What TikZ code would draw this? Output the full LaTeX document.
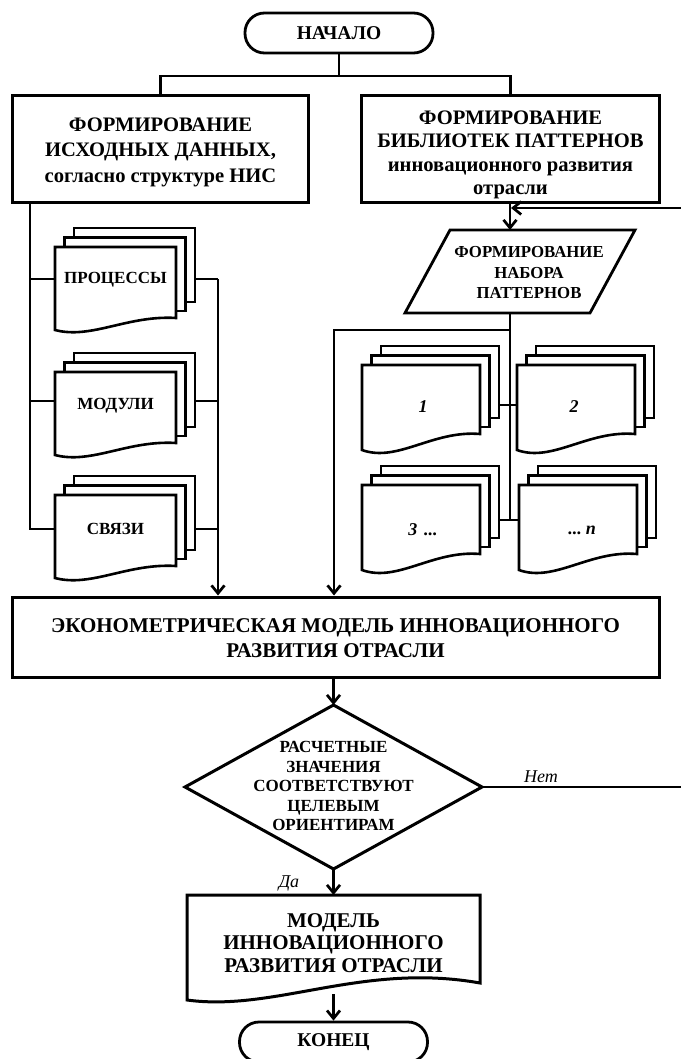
\documentclass[tikz,border=0pt]{standalone}
\usepackage{fontspec}
\setmainfont{Liberation Serif}
\usetikzlibrary{arrows.meta}
\newcommand{\fsz}[2]{\fontsize{#1}{#2}\selectfont}
% x, y (front top-left), w, h (left side), r (rise of right bottom)
\newcommand{\docstack}[5]{%
  \filldraw[page] ({#1+19},{#2-19}) rectangle ({#1+#3+19},{#2+#4-#5-16});
  \filldraw[page] ({#1+9.5},{#2-9.5}) rectangle ({#1+#3+9.5},{#2+#4-#5-7});
  \filldraw[page] (#1,#2) -- ({#1+#3},#2) -- ({#1+#3},{#2+#4-#5})
     .. controls ({#1+0.6*#3},{#2+#4-1.25*#5}) and ({#1+0.3*#3},{#2+#4+0.8*#5}) .. (#1,{#2+#4}) -- cycle;
}
\begin{document}
\begin{tikzpicture}[x=1pt,y=-1pt,
  conn/.style={line width=2.7pt},
  arr/.style={-{Straight Barb[length=8pt,width=13pt]}},
  page/.style={draw=black,fill=white,line width=2.6pt},
  box/.style={draw,line width=3pt,fill=white,inner sep=0pt},
  term/.style={draw,line width=2.8pt,rounded corners=19.5pt,minimum width=188pt,minimum height=40pt,inner sep=0pt,font=\bfseries\fsz{19.5}{22}},
  txt/.style={align=center,inner sep=0pt},
  lbl/.style={inner sep=0pt,font=\itshape\fsz{18}{20}},
  num/.style={inner sep=0pt,font=\bfseries\itshape\fsz{18}{20}}]
\useasboundingbox (0,0) rectangle (680,1059);
\fill[white] (0,0) rectangle (680,1059);

% start
\node[term] (start) at (339,33) {НАЧАЛО};
% top boxes
\node[box,minimum width=296pt,minimum height=107pt] (lbox) at (160.5,149.5) {};
\node[txt,font=\bfseries\fsz{20.6}{25.5}] (ltext) at (160.5,152) {ФОРМИРОВАНИЕ\\ИСХОДНЫХ ДАННЫХ,\\согласно структуре НИС};
\node[box,minimum width=298pt,minimum height=107pt] (rbox) at (510.5,149.5) {};
\node[txt,font=\bfseries\fsz{20.6}{23.5}] (rtext) at (510.5,155) {ФОРМИРОВАНИЕ\\БИБЛИОТЕК ПАТТЕРНОВ\\инновационного развития\\отрасли};
\coordinate (split) at (339,76);
\draw[conn] (start.south) -- (split);
\draw[conn] (lbox.north) |- (split) -| (rbox.north);

% left document stacks
\docstack{55}{247}{121}{83}{12}
\node[txt,font=\bfseries\fsz{17}{20}] (proc) at (115.5,280) {ПРОЦЕССЫ};
\docstack{55}{372}{121}{83}{12}
\node[txt,font=\bfseries\fsz{17}{20}] (mod) at (115.5,406) {МОДУЛИ};
\docstack{55}{495}{121}{83}{12}
\node[txt,font=\bfseries\fsz{17}{20}] (svz) at (115.5,529) {СВЯЗИ};
\coordinate (s1in) at (55,279);  \coordinate (s1out) at (195,279);
\coordinate (s2in) at (55,401);  \coordinate (s2out) at (195,401);
\coordinate (s3in) at (55,529);  \coordinate (s3out) at (195,529);
\coordinate (trunk) at (30,529);
\coordinate (coll) at (218,279);

% main box
\node[box,minimum width=647pt,minimum height=80pt] (main) at (335.5,637) {};
\node[txt,font=\bfseries\fsz{21}{25.5}] (mtext) at (335.5,638) {ЭКОНОМЕТРИЧЕСКАЯ МОДЕЛЬ ИННОВАЦИОННОГО\\РАЗВИТИЯ ОТРАСЛИ};

\draw[conn] (lbox.south -| trunk) -- (trunk) -- (s3in);
\draw[conn] (s1in -| trunk) -- (s1in);
\draw[conn] (s2in -| trunk) -- (s2in);
\draw[conn] (s1out) -- (coll);
\draw[conn] (s2out) -- (s2out -| coll);
\draw[conn] (s3out) -- (s3out -| coll);
\draw[conn,arr] (coll) -- (coll |- main.north);

% parallelogram
\coordinate (pTL) at (450,230); \coordinate (pTR) at (635,230);
\coordinate (pBR) at (590,313); \coordinate (pBL) at (405,313);
\draw[line width=2.8pt,fill=white] (pTL) -- (pTR) -- (pBR) -- (pBL) -- cycle;
\node[txt,font=\bfseries\fsz{16.8}{20.5}] (par) at (529,273) {ФОРМИРОВАНИЕ\\НАБОРА\\ПАТТЕРНОВ};
\coordinate (parT) at (510,230);
\coordinate (parB) at (510,313);
\draw[conn,arr] (rbox.south -| parT) -- (parT);

% pattern stacks
\docstack{362}{365}{118}{85}{16}
\node[num] (n1) at (423,407) {1};
\docstack{517}{365}{118}{85}{16}
\node[num] (n2) at (574,407) {2};
\docstack{362}{485}{118}{85}{16}
\node[num] (n3) at (423,530) {3\hspace{7pt}...};
\docstack{519}{485}{118}{85}{16}
\node[num] (n4) at (582,530) {...\hspace{4pt}n};
\coordinate (pj1) at (510,405);
\coordinate (pj2) at (510,520);
\coordinate (pbr) at (510,330);
\coordinate (pl) at (334,330);
\draw[conn] (parB) -- (pj2);
\draw[conn] (pj1 -| 499,0) -- (pj1 -| 517,0);
\draw[conn] (pj2 -| 499,0) -- (pj2 -| 519,0);
\draw[conn,arr] (pbr) -- (pl) -- (pl |- main.north);

% decision
\coordinate (dT) at (333.5,705); \coordinate (dR) at (482,787);
\coordinate (dB) at (333.5,869); \coordinate (dL) at (185,787);
\draw[line width=3pt,fill=white] (dT) -- (dR) -- (dB) -- (dL) -- cycle;
\node[txt,font=\bfseries\fsz{17}{19.5}] (dec) at (333.5,786)
  {РАСЧЕТНЫЕ\\ЗНАЧЕНИЯ\\СООТВЕТСТВУЮТ\\ЦЕЛЕВЫМ\\ОРИЕНТИРАМ};
\draw[conn,arr] (main.south -| dT) -- (dT);

% feedback loop (No)
\coordinate (fb) at (686,208);
\draw[conn,arr,shorten >=1pt] (dR) -- (dR -| fb) -- (fb) -- (fb -| parT);
\node[lbl] (no) at (541,777) {Нет};

% result document
\coordinate (fT) at (333.5,895);
\coordinate (fB) at (333.5,994);
\filldraw[line width=3pt,fill=white] (187,895) -- (480,895) -- (480,983)
   .. controls (362.8,962) and (274.9,1012) .. (187,1000) -- cycle;
\node[txt,font=\bfseries\fsz{21}{22.5}] (res) at (333.5,943)
  {МОДЕЛЬ\\ИННОВАЦИОННОГО\\РАЗВИТИЯ ОТРАСЛИ};
\draw[conn,arr] (dB) -- (fT);
\node[lbl] (yes) at (289,883) {Да};

% end
\node[term] (end) at (333.5,1042) {КОНЕЦ};
\draw[conn,arr] (fB) -- (end.north);
\end{tikzpicture}
\end{document}
